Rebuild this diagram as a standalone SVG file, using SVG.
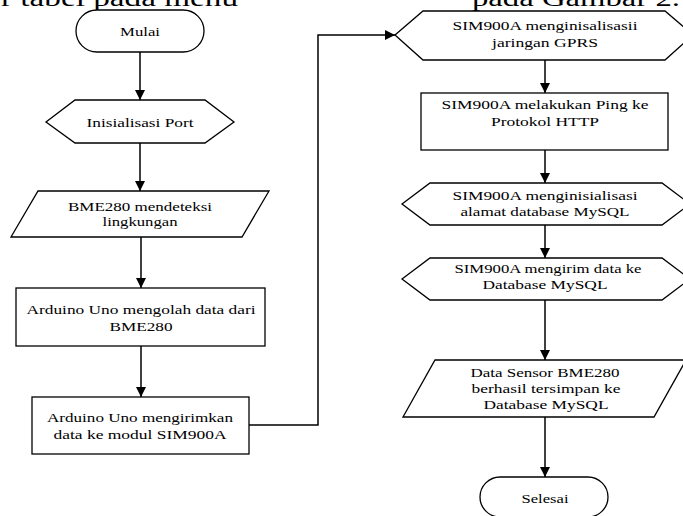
<svg xmlns="http://www.w3.org/2000/svg" width="683" height="516" viewBox="0 0 683 516">
<style>
.s{fill:#fff;stroke:#000;stroke-width:1.3}
.t{font-family:"Liberation Serif","Times New Roman",serif;font-size:13.5px;fill:#000;text-anchor:middle}
.h{font-family:"Liberation Serif","Times New Roman",serif;font-size:23px;fill:#000}
.c{fill:none;stroke:#000;stroke-width:1.5}
</style>
<defs>
<marker id="a" viewBox="0 0 10 10" refX="10" refY="5" markerWidth="10" markerHeight="10" markerUnits="userSpaceOnUse" orient="auto">
<path d="M0,0 L10,5 L0,10 Z" fill="#000"/>
</marker>
</defs>
<rect width="683" height="516" fill="#fff"/>
<text class="h" x="1" y="6" textLength="237" lengthAdjust="spacingAndGlyphs">r tabel pada menu</text>
<text class="h" x="472" y="6" textLength="208" lengthAdjust="spacingAndGlyphs">pada Gambar 2.</text>
<g id="connectors">
<path class="c" d="M140,52 V100" marker-end="url(#a)"/>
<path class="c" d="M140,143 V191" marker-end="url(#a)"/>
<path class="c" d="M141,237 V288" marker-end="url(#a)"/>
<path class="c" d="M141,346 V397" marker-end="url(#a)"/>
<path class="c" d="M249,425 H318 V35 H395" marker-end="url(#a)"/>
<path class="c" d="M545,60 V93" marker-end="url(#a)"/>
<path class="c" d="M545,150 V183" marker-end="url(#a)"/>
<path class="c" d="M545,225 V258" marker-end="url(#a)"/>
<path class="c" d="M545,300 V360" marker-end="url(#a)"/>
<path class="c" d="M545,417 V477" marker-end="url(#a)"/>
</g>
<g id="mulai">
<rect class="s" x="76" y="10" width="128" height="42" rx="21"/>
<text class="t" x="140" y="36" textLength="40" lengthAdjust="spacingAndGlyphs">Mulai</text>
</g>
<g id="port">
<polygon class="s" points="46,122 75,100 205,100 234,122 205,143 75,143"/>
<text class="t" x="140" y="127" textLength="107" lengthAdjust="spacingAndGlyphs">Inisialisasi Port</text>
</g>
<g id="bme">
<polygon class="s" points="38,191 269,191 242,237 11,237"/>
<text class="t" x="140" y="211" textLength="144" lengthAdjust="spacingAndGlyphs">BME280 mendeteksi</text>
<text class="t" x="140" y="226" textLength="75" lengthAdjust="spacingAndGlyphs">lingkungan</text>
</g>
<g id="olah">
<rect class="s" x="16" y="288" width="249" height="58"/>
<text class="t" x="141" y="314" textLength="229" lengthAdjust="spacingAndGlyphs">Arduino Uno mengolah data dari</text>
<text class="t" x="141" y="331" textLength="63" lengthAdjust="spacingAndGlyphs">BME280</text>
</g>
<g id="kirim">
<rect class="s" x="32" y="397" width="217" height="57"/>
<text class="t" x="140" y="422" textLength="186" lengthAdjust="spacingAndGlyphs">Arduino Uno mengirimkan</text>
<text class="t" x="140" y="439" textLength="173" lengthAdjust="spacingAndGlyphs">data ke modul SIM900A</text>
</g>
<g id="gprs">
<polygon class="s" points="395,35 423,11 665,11 693,35 665,60 423,60"/>
<text class="t" x="545" y="30" textLength="185" lengthAdjust="spacingAndGlyphs">SIM900A menginisalisasii</text>
<text class="t" x="545" y="47" textLength="106" lengthAdjust="spacingAndGlyphs">jaringan GPRS</text>
</g>
<g id="ping">
<rect class="s" x="421" y="93" width="247" height="57"/>
<text class="t" x="545" y="109" textLength="207" lengthAdjust="spacingAndGlyphs">SIM900A melakukan Ping ke</text>
<text class="t" x="545" y="126" textLength="108" lengthAdjust="spacingAndGlyphs">Protokol HTTP</text>
</g>
<g id="alamat">
<polygon class="s" points="402,204 430,183 662,183 690,204 662,225 430,225"/>
<text class="t" x="545" y="200" textLength="185" lengthAdjust="spacingAndGlyphs">SIM900A menginisialisasi</text>
<text class="t" x="545" y="216" textLength="169" lengthAdjust="spacingAndGlyphs">alamat database MySQL</text>
</g>
<g id="kirimdata">
<polygon class="s" points="402,279 430,258 662,258 690,279 662,300 430,300"/>
<text class="t" x="548" y="273" textLength="187" lengthAdjust="spacingAndGlyphs">SIM900A mengirim data ke</text>
<text class="t" x="545" y="289" textLength="125" lengthAdjust="spacingAndGlyphs">Database MySQL</text>
</g>
<g id="tersimpan">
<polygon class="s" points="435,360 686,360 654,417 403,417"/>
<text class="t" x="545" y="377" textLength="149" lengthAdjust="spacingAndGlyphs">Data Sensor BME280</text>
<text class="t" x="546" y="393" textLength="149" lengthAdjust="spacingAndGlyphs">berhasil tersimpan ke</text>
<text class="t" x="546" y="409" textLength="125" lengthAdjust="spacingAndGlyphs">Database MySQL</text>
</g>
<g id="selesai">
<rect class="s" x="480" y="477" width="128" height="40" rx="20"/>
<text class="t" x="545" y="503" textLength="47" lengthAdjust="spacingAndGlyphs">Selesai</text>
</g>
</svg>
